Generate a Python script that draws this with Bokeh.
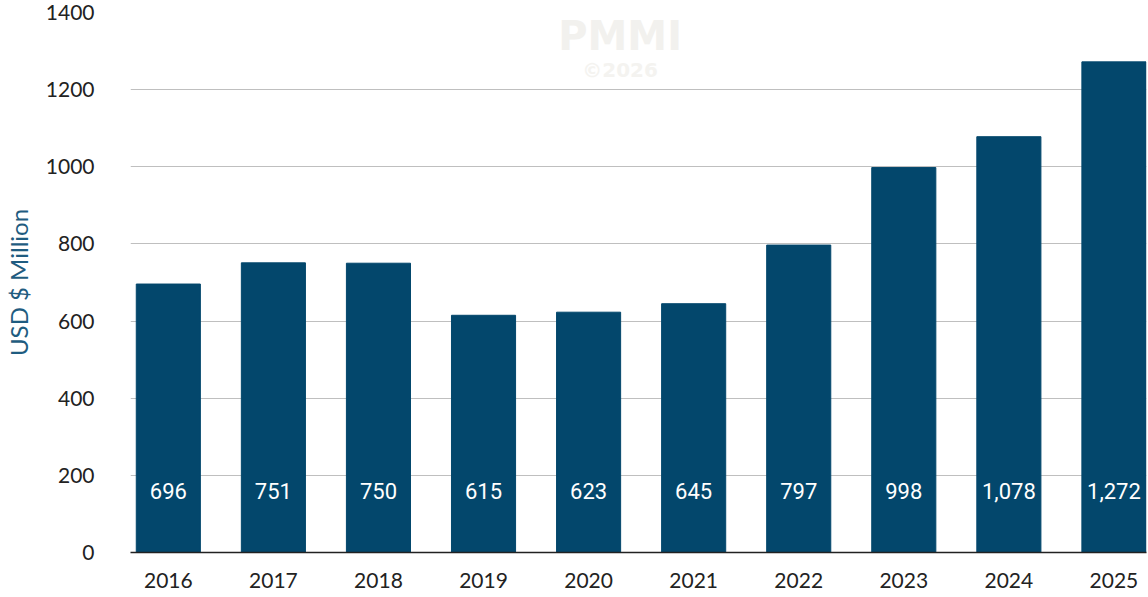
from bokeh.plotting import figure
from bokeh.models import ColumnDataSource, Range1d, FixedTicker, Label
from bokeh.core.properties import value
from bokeh.embed import file_html
from bokeh.resources import INLINE

years = ["2016", "2017", "2018", "2019", "2020", "2021", "2022", "2023", "2024", "2025"]
values = [696, 751, 750, 615, 623, 645, 797, 998, 1078, 1272]
labels = ["696", "751", "750", "615", "623", "645", "797", "998", "1,078", "1,272"]
y_ticks = [0, 200, 400, 600, 800, 1000, 1200, 1400]

xs = list(range(len(years)))
src = ColumnDataSource(dict(x=xs, top=values, lab=labels, ly=[160] * len(xs)))

p = figure(width=1148, height=597, output_backend="svg", toolbar_location=None,
           x_range=Range1d(-0.36, 9.31), y_range=Range1d(0, 1400),
           min_border_left=128, min_border_right=2, min_border_top=12, min_border_bottom=45)
p.outline_line_color = None
p.background_fill_color = "white"

p.add_layout(Label(x=4.3, y=1340, text="PMMI", text_align="center", text_baseline="middle",
                   text_font="DejaVu Sans", text_font_style="bold", text_font_size="40px",
                   text_color="#F2F1EE"))
p.add_layout(Label(x=4.3, y=1250, text="©2026", text_align="center", text_baseline="middle",
                   text_font="DejaVu Sans", text_font_style="bold", text_font_size="20px",
                   text_color="#F4F3F0"))

p.vbar(x="x", top="top", width=0.61, source=src, color="#03476C")
p.text(x="x", y="ly", text="lab", source=src, text_color="white", text_align="center",
       text_baseline="middle", text_font=value("Roboto"), text_font_size="22px")

p.xaxis.ticker = FixedTicker(ticks=xs)
p.xaxis.major_label_overrides = {i: y for i, y in enumerate(years)}
p.xaxis.major_tick_line_color = None
p.xaxis.minor_tick_line_color = None
p.xaxis.axis_line_color = "#222222"
p.xaxis.axis_line_width = 1.5
p.xaxis.major_label_text_font = "Lato"
p.xaxis.major_label_text_font_size = "21px"
p.xaxis.major_label_text_color = "#222222"
p.xaxis.major_label_standoff = 14

p.yaxis.ticker = FixedTicker(ticks=y_ticks)
p.yaxis.axis_line_color = None
p.yaxis.major_tick_line_color = None
p.yaxis.minor_tick_line_color = None
p.yaxis.major_label_text_font = "Lato"
p.yaxis.major_label_text_font_size = "21px"
p.yaxis.major_label_text_color = "#222222"
p.yaxis.major_label_standoff = 30
p.yaxis.axis_label = "USD $ Million"
p.yaxis.axis_label_text_font = "Lato"
p.yaxis.axis_label_text_font_style = "normal"
p.yaxis.axis_label_text_font_size = "24px"
p.yaxis.axis_label_text_color = "#1F5C80"
p.yaxis.axis_label_standoff = 10

p.xgrid.grid_line_color = None
p.ygrid.grid_line_color = "#BFBFBF"
p.ygrid.grid_line_width = 1.2

open("out.html", "w").write(file_html(p, INLINE))
